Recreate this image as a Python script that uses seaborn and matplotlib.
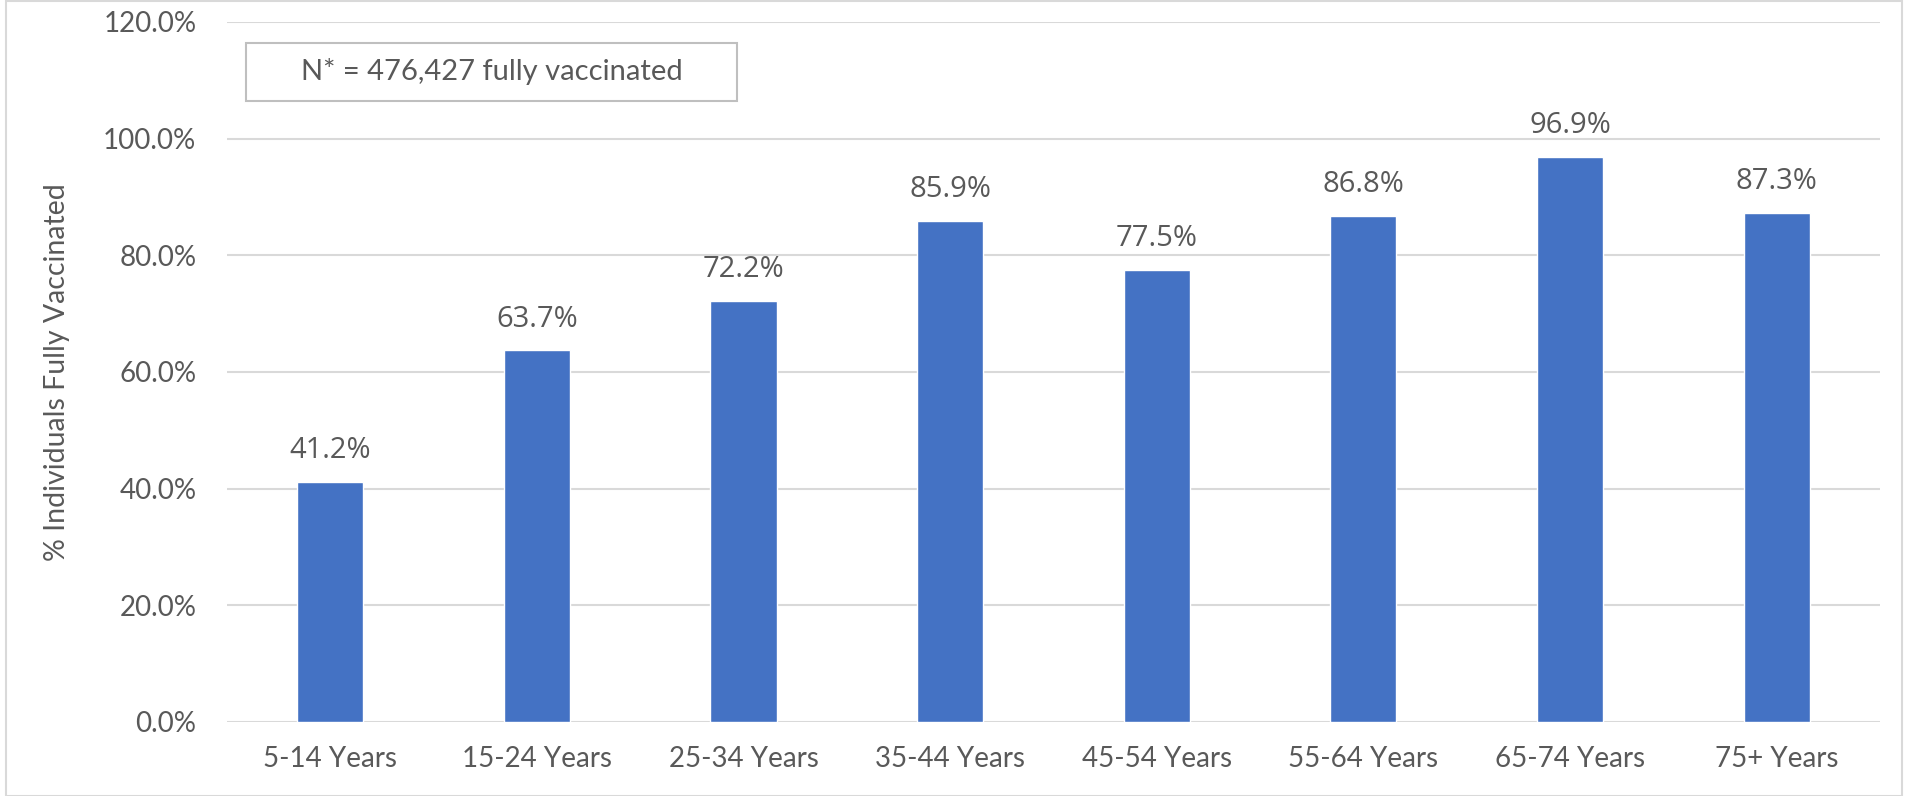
import matplotlib
matplotlib.use("Agg")
import matplotlib.pyplot as plt
import seaborn as sns
import pandas as pd
from matplotlib.patches import Rectangle

age_groups = ["5-14 Years", "15-24 Years", "25-34 Years", "35-44 Years",
              "45-54 Years", "55-64 Years", "65-74 Years", "75+ Years"]
pct_vaccinated = [41.2, 63.7, 72.2, 85.9, 77.5, 86.8, 96.9, 87.3]
y_ticks = [0, 20, 40, 60, 80, 100, 120]
note = "N* = 476,427 fully vaccinated"

df = pd.DataFrame({"age": age_groups, "pct": pct_vaccinated})

sns.set_style("white")
plt.rcParams["font.family"] = ["Lato", "DejaVu Sans"]
text_color = "#595959"

fig = plt.figure(figsize=(19.1, 7.96), dpi=100)
ax = fig.add_axes([0.1188, 0.093, 0.8655, 0.8794])

sns.barplot(data=df, x="age", y="pct", color="#4472C4", width=0.32,
            saturation=1, ax=ax)
ax.bar_label(ax.containers[0], labels=[f"{v:.1f}%" for v in pct_vaccinated],
             padding=12, fontsize=21, color=text_color, family="Open Sans")

ax.set_ylim(0, 120)
ax.set_xlim(-0.5, len(age_groups) - 0.5)
ax.set_yticks(y_ticks)
ax.set_yticklabels([f"{t:.1f}%" for t in y_ticks])
ax.yaxis.grid(True, color="#D9D9D9", linewidth=1.5)
ax.set_axisbelow(True)
for s in ax.spines.values():
    s.set_visible(False)
ax.tick_params(axis="both", length=0, labelsize=20, colors=text_color)
ax.tick_params(axis="x", pad=17)
ax.tick_params(axis="y", pad=22)
ax.set_xlabel("")
ax.set_ylabel("% Individuals Fully Vaccinated", fontsize=20.5, color=text_color,
              labelpad=24)

# annotation box
ax.add_patch(Rectangle((0.0115, 0.887), 0.297, 0.083, transform=ax.transAxes,
                       fill=True, fc="white", ec="#BFBFBF", lw=1.5, zorder=5))
ax.text(0.16, 0.929, note, transform=ax.transAxes, ha="center", va="center",
        fontsize=21, color=text_color, zorder=6)

fig.patches.append(Rectangle((0.003, 0.0), 0.993, 0.999, transform=fig.transFigure,
                             fill=False, ec="#D9D9D9", lw=1.5))

fig.savefig("out.png", dpi=100)
